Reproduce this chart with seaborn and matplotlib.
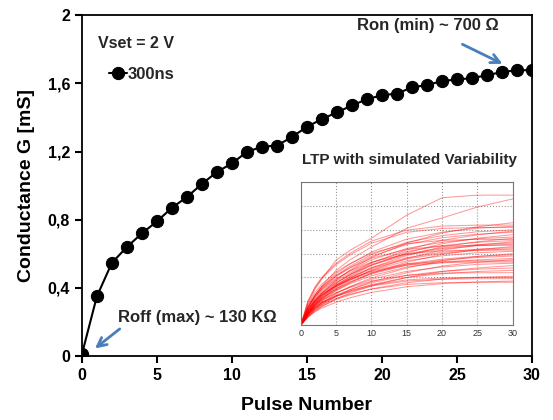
import numpy as np
import pandas as pd
import matplotlib
matplotlib.use('Agg')
import matplotlib.pyplot as plt
import seaborn as sns

# main curve: 300ns pulses, Vset = 2 V
pulses = list(range(31))
conductance = [0.01, 0.35, 0.547, 0.64, 0.72, 0.79, 0.87, 0.933, 1.01, 1.08, 1.13,
               1.198, 1.228, 1.235, 1.285, 1.345, 1.39, 1.43, 1.47, 1.507, 1.53,
               1.54, 1.576, 1.59, 1.613, 1.623, 1.63, 1.648, 1.666, 1.677, 1.677]

xtick_vals = [0, 5, 10, 15, 20, 25, 30]
ytick_vals = [0, 0.4, 0.8, 1.2, 1.6, 2.0]
ytick_labels = ['0', '0,4', '0,8', '1,2', '1,6', '2']

# inset: LTP with simulated variability (grid units)
ltp_x = [0, 1, 2, 3, 5, 7, 10, 15, 20, 25, 30]
ltp_curves = [
    [0, 0.90, 1.50, 1.95, 2.73, 3.15, 3.65, 4.62, 5.35, 5.46, 5.46],
    [0, 0.75, 1.25, 1.65, 2.30, 2.75, 3.28, 4.07, 4.50, 4.96, 5.30],
    [0, 0.56, 0.99, 1.33, 1.89, 2.32, 2.84, 3.44, 3.87, 4.13, 4.30],
    [0, 1.01, 1.60, 2.02, 2.60, 3.02, 3.53, 3.99, 4.16, 4.20, 4.20],
    [0, 0.75, 1.25, 1.62, 2.16, 2.57, 3.07, 3.61, 3.90, 4.07, 4.15],
    [0, 0.98, 1.56, 1.97, 2.54, 2.95, 3.44, 3.90, 4.06, 4.10, 4.10],
    [0, 0.72, 1.20, 1.56, 2.08, 2.48, 2.96, 3.48, 3.76, 3.92, 4.00],
    [0, 0.51, 0.91, 1.22, 1.74, 2.13, 2.61, 3.16, 3.56, 3.79, 3.95],
    [0, 0.70, 1.17, 1.52, 2.03, 2.42, 2.89, 3.39, 3.67, 3.82, 3.90],
    [0, 0.49, 0.87, 1.18, 1.67, 2.05, 2.51, 3.04, 3.42, 3.65, 3.80],
    [0, 0.67, 1.11, 1.44, 1.92, 2.29, 2.74, 3.22, 3.48, 3.63, 3.70],
    [0, 0.47, 0.84, 1.13, 1.61, 1.97, 2.41, 2.92, 3.29, 3.50, 3.65],
    [0, 0.86, 1.37, 1.73, 2.23, 2.59, 3.02, 3.42, 3.56, 3.60, 3.60],
    [0, 0.64, 1.07, 1.38, 1.85, 2.20, 2.63, 3.09, 3.34, 3.48, 3.55],
    [0, 0.46, 0.81, 1.09, 1.54, 1.89, 2.31, 2.80, 3.15, 3.36, 3.50],
    [0, 0.62, 1.04, 1.35, 1.79, 2.14, 2.55, 3.00, 3.24, 3.38, 3.45],
    [0, 0.61, 1.02, 1.33, 1.77, 2.11, 2.52, 2.96, 3.20, 3.33, 3.40],
    [0, 0.80, 1.27, 1.61, 2.08, 2.41, 2.81, 3.18, 3.32, 3.35, 3.35],
    [0, 0.43, 0.76, 1.02, 1.45, 1.78, 2.18, 2.64, 2.97, 3.17, 3.30],
    [0, 0.59, 0.98, 1.27, 1.69, 2.02, 2.41, 2.83, 3.06, 3.19, 3.25],
    [0, 0.58, 0.96, 1.25, 1.66, 1.98, 2.37, 2.78, 3.01, 3.14, 3.20],
    [0, 0.76, 1.20, 1.51, 1.95, 2.27, 2.65, 2.99, 3.12, 3.15, 3.15],
    [0, 0.56, 0.93, 1.21, 1.61, 1.92, 2.29, 2.70, 2.91, 3.04, 3.10],
    [0, 0.39, 0.69, 0.93, 1.32, 1.62, 1.98, 2.40, 2.70, 2.88, 3.00],
    [0, 0.53, 0.89, 1.15, 1.53, 1.83, 2.18, 2.57, 2.77, 2.89, 2.95],
    [0, 0.52, 0.87, 1.13, 1.51, 1.80, 2.15, 2.52, 2.73, 2.84, 2.90],
    [0, 0.50, 0.84, 1.09, 1.46, 1.74, 2.07, 2.44, 2.63, 2.74, 2.80],
    [0, 0.36, 0.63, 0.85, 1.21, 1.49, 1.82, 2.20, 2.48, 2.64, 2.75],
    [0, 0.65, 1.03, 1.30, 1.67, 1.94, 2.27, 2.57, 2.67, 2.70, 2.70],
    [0, 0.64, 1.01, 1.27, 1.64, 1.91, 2.23, 2.52, 2.62, 2.65, 2.65],
    [0, 0.47, 0.78, 1.01, 1.35, 1.61, 1.92, 2.26, 2.44, 2.55, 2.60],
    [0, 0.33, 0.58, 0.78, 1.10, 1.35, 1.65, 2.00, 2.25, 2.40, 2.50],
    [0, 0.43, 0.72, 0.94, 1.25, 1.49, 1.78, 2.09, 2.26, 2.35, 2.40],
    [0, 0.41, 0.69, 0.90, 1.20, 1.43, 1.70, 2.00, 2.16, 2.25, 2.30],
    [0, 0.53, 0.84, 1.06, 1.36, 1.58, 1.85, 2.09, 2.18, 2.20, 2.20],
    [0, 0.37, 0.62, 0.80, 1.07, 1.27, 1.52, 1.78, 1.93, 2.01, 2.05],
    [0, 0.48, 0.76, 0.96, 1.24, 1.44, 1.68, 1.90, 1.98, 2.00, 2.00],
    [0, 0.47, 0.74, 0.94, 1.21, 1.40, 1.64, 1.85, 1.93, 1.95, 1.95],
    [0, 0.33, 0.56, 0.72, 0.96, 1.15, 1.37, 1.61, 1.74, 1.81, 1.85],
    [0, 0.43, 0.68, 0.86, 1.12, 1.30, 1.51, 1.71, 1.78, 1.80, 1.80],
]

sns.set_theme(style='white')
plt.rcParams['font.family'] = ['Liberation Sans', 'DejaVu Sans']
plt.rcParams['font.weight'] = 'bold'

fig = plt.figure(figsize=(5.53, 4.2), dpi=100)
ax = fig.add_axes([0.148, 0.152, 0.814, 0.812])

main_df = pd.DataFrame({'pulse': pulses, 'G': conductance})
sns.lineplot(data=main_df, x='pulse', y='G', ax=ax, color='black', lw=1.5,
             marker='o', markersize=8.8, markeredgecolor='black', label='300ns')

ax.set_xlim(0, 30)
ax.set_ylim(0, 2)
ax.set_xticks(xtick_vals)
ax.set_yticks(ytick_vals)
ax.set_yticklabels(ytick_labels)
ax.tick_params(direction='out', length=5, width=1.5, labelsize=11.5, color='black',
               labelcolor='black', left=True, bottom=True)
for lbl in ax.get_xticklabels() + ax.get_yticklabels():
    lbl.set_fontweight('bold')
for sp in ax.spines.values():
    sp.set_color('black')
    sp.set_linewidth(1.3)
ax.set_xlabel('Pulse Number', fontsize=14, fontweight='bold', color='black', labelpad=10)
ax.set_ylabel('Conductance G [mS]', fontsize=14, fontweight='bold', color='black', labelpad=9)

leg = ax.legend(loc='center left', bbox_to_anchor=(0.045, 0.827), frameon=False,
                handlelength=1.1, handletextpad=0.05, borderaxespad=0,
                prop={'weight': 'bold', 'size': 12})

ax.text(1.07, 1.836, 'Vset = 2 V', fontsize=11.5, fontweight='bold', ha='left', va='center')
ax.text(23.07, 1.94, 'Ron (min) ~ 700 Ω', fontsize=12, fontweight='bold', ha='center', va='center')
ax.text(2.4, 0.229, 'Roff (max) ~ 130 KΩ', fontsize=12, fontweight='bold', ha='left', va='center')

arrow_kw = dict(arrowstyle='->', color='#4a7ebb', lw=2, mutation_scale=16)
ax.annotate('', xy=(28.2, 1.707), xytext=(25.2, 1.836), arrowprops=arrow_kw)
ax.annotate('', xy=(0.73, 0.035), xytext=(2.67, 0.17), arrowprops=arrow_kw)

# inset
ax_in = fig.add_axes([0.544, 0.226, 0.383, 0.340])
ltp_df = pd.DataFrame([(i, x, v) for i, c in enumerate(ltp_curves) for x, v in zip(ltp_x, c)],
                      columns=['curve', 'pulse', 'G'])
sns.lineplot(data=ltp_df, x='pulse', y='G', units='curve', estimator=None, ax=ax_in,
             color='red', alpha=0.4, lw=0.75)
ax_in.set_xlim(0, 30)
ax_in.set_ylim(0, 6)
ax_in.set_xticks(xtick_vals)
ax_in.set_yticks(range(7))
ax_in.set_yticklabels([])
ax_in.set_xlabel('')
ax_in.set_ylabel('')
ax_in.grid(True, color='#999999', ls=':', lw=0.8)
ax_in.tick_params(length=0, labelsize=6.5, pad=3, labelcolor='#333333')
for lbl in ax_in.get_xticklabels():
    lbl.set_fontweight('normal')
for sp in ax_in.spines.values():
    sp.set_color('#777777')
    sp.set_linewidth(0.8)
fig.text(410 / 553, 1 - 160 / 420, 'LTP with simulated Variability', fontsize=11,
         fontweight='bold', ha='center', va='center')

fig.savefig('out.png', dpi=100)
